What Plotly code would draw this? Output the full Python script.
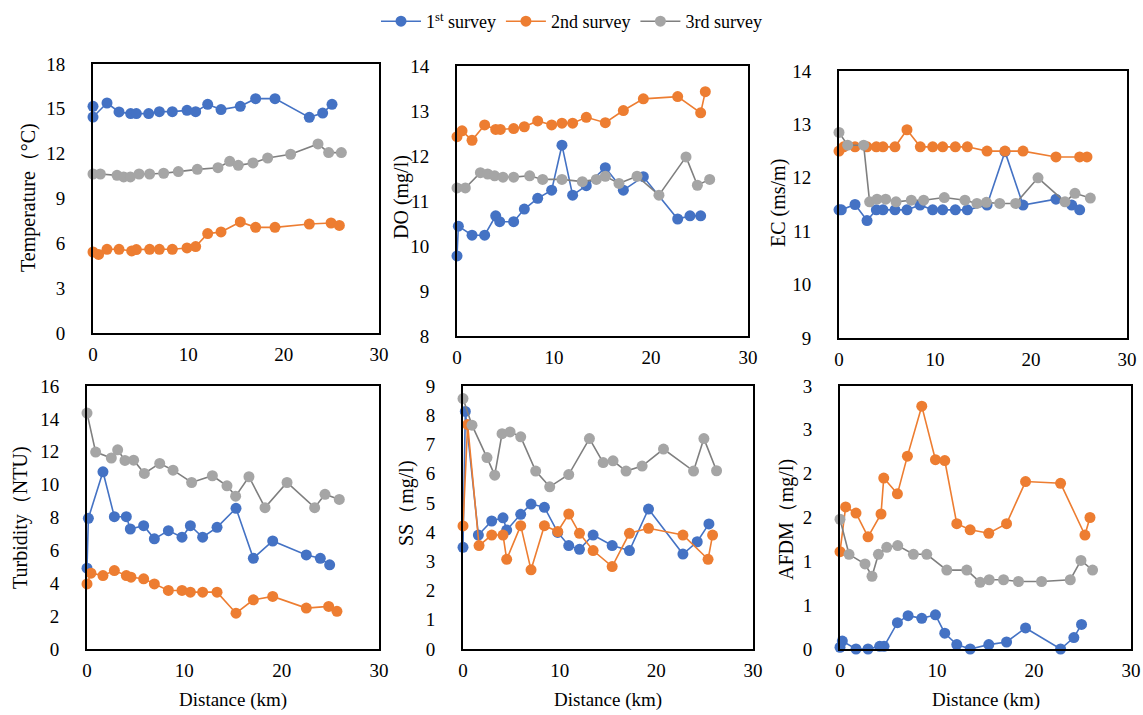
import plotly.graph_objects as go

W, H = 1143, 715
BLUE, ORANGE, GRAY = "#4472C4", "#ED7D31", "#A5A5A5"
GRAY_LINE = "#7F7F7F"
FONT = "Liberation Serif"

# ---------------- data ----------------
# Temperature
temp_x1 = [0, 0, 1.47, 2.73, 3.95, 4.55, 5.84, 6.96, 8.32, 9.86, 10.77, 12.03, 13.43, 15.45, 17.06, 19.09, 22.69, 24.09, 25.07]
temp_y1 = [15.17, 14.45, 15.39, 14.79, 14.68, 14.68, 14.68, 14.81, 14.81, 14.9, 14.81, 15.3, 14.95, 15.17, 15.68, 15.68, 14.43, 14.72, 15.3]
temp_x2 = [0, 0.59, 1.47, 2.73, 4.06, 4.55, 5.94, 6.96, 8.32, 9.86, 10.77, 12.03, 13.43, 15.45, 17.06, 19.09, 22.69, 24.97, 25.84]
temp_y2 = [5.42, 5.26, 5.6, 5.6, 5.49, 5.58, 5.6, 5.6, 5.6, 5.69, 5.78, 6.65, 6.76, 7.43, 7.07, 7.07, 7.29, 7.36, 7.2]
temp_x3 = [0, 0.77, 2.52, 3.22, 3.92, 4.83, 5.94, 7.41, 8.95, 10.94, 13.11, 14.34, 15.24, 16.78, 18.32, 20.73, 23.6, 24.72, 26.05]
temp_y3 = [10.64, 10.64, 10.55, 10.44, 10.44, 10.64, 10.64, 10.69, 10.8, 10.95, 11.06, 11.49, 11.22, 11.38, 11.71, 11.96, 12.65, 12.07, 12.07]

# DO
do_x1 = [0, 0.14, 1.55, 2.85, 3.99, 4.4, 5.84, 6.94, 8.32, 9.76, 10.82, 11.92, 13.33, 15.29, 17.15, 19.21, 22.75, 24.02, 25.12]
do_y1 = [9.78, 10.44, 10.24, 10.24, 10.67, 10.54, 10.54, 10.82, 11.06, 11.24, 12.24, 11.13, 11.34, 11.74, 11.24, 11.54, 10.6, 10.67, 10.67]
do_x2 = [0, 0.52, 1.55, 2.85, 3.99, 4.47, 5.84, 6.94, 8.32, 9.76, 10.82, 11.92, 13.33, 15.29, 17.15, 19.21, 22.75, 25.12, 25.6]
do_y2 = [12.43, 12.56, 12.35, 12.69, 12.59, 12.59, 12.61, 12.65, 12.78, 12.69, 12.73, 12.73, 12.86, 12.74, 13.01, 13.27, 13.32, 12.96, 13.43]
do_x3 = [0, 0.86, 2.41, 3.16, 3.88, 4.74, 5.84, 7.49, 8.83, 10.82, 12.92, 14.36, 15.29, 16.7, 18.56, 20.82, 23.61, 24.78, 26.05]
do_y3 = [11.29, 11.29, 11.63, 11.6, 11.56, 11.53, 11.53, 11.56, 11.48, 11.48, 11.43, 11.48, 11.55, 11.39, 11.55, 11.13, 11.98, 11.35, 11.48]

# EC
ec_x1 = [0, 0.24, 1.67, 2.92, 3.89, 4.58, 5.83, 7.08, 8.44, 9.76, 10.8, 12.12, 13.37, 15.42, 17.29, 19.17, 22.6, 24.24, 25.07]
ec_y1 = [11.4, 11.4, 11.5, 11.2, 11.4, 11.4, 11.4, 11.4, 11.49, 11.4, 11.4, 11.4, 11.4, 11.49, 12.49, 11.49, 11.6, 11.49, 11.4]
ec_x2 = [0, 0.49, 1.67, 2.92, 3.89, 4.58, 5.83, 7.08, 8.47, 9.76, 10.8, 12.12, 13.37, 15.42, 17.29, 19.17, 22.6, 25.07, 25.83]
ec_y2 = [12.5, 12.58, 12.58, 12.58, 12.58, 12.58, 12.58, 12.9, 12.58, 12.58, 12.58, 12.58, 12.58, 12.5, 12.5, 12.5, 12.39, 12.39, 12.39]
ec_x3 = [0, 0.9, 2.57, 3.19, 3.96, 4.86, 5.94, 7.53, 8.82, 10.97, 13.12, 14.37, 15.35, 16.74, 18.4, 20.73, 23.54, 24.58, 26.18]
ec_y3 = [12.85, 12.61, 12.61, 11.55, 11.6, 11.6, 11.55, 11.58, 11.58, 11.63, 11.58, 11.52, 11.54, 11.52, 11.52, 12.0, 11.55, 11.71, 11.62]

# Turbidity
tu_x1 = [0, 0.14, 1.64, 2.81, 4.04, 4.45, 5.82, 6.92, 8.36, 9.76, 10.62, 11.88, 13.36, 15.31, 17.09, 19.08, 22.53, 23.97, 24.93]
tu_y1 = [4.92, 7.95, 10.78, 8.05, 8.05, 7.3, 7.5, 6.7, 7.2, 6.8, 7.5, 6.8, 7.4, 8.56, 5.52, 6.57, 5.72, 5.52, 5.12]
tu_x2 = [0, 0.41, 1.64, 2.81, 4.04, 4.52, 5.82, 6.92, 8.36, 9.76, 10.62, 11.88, 13.36, 15.31, 17.09, 19.08, 22.53, 24.83, 25.68]
tu_y2 = [3.96, 4.61, 4.47, 4.77, 4.47, 4.37, 4.27, 3.96, 3.56, 3.56, 3.46, 3.46, 3.46, 2.18, 2.99, 3.2, 2.49, 2.59, 2.29]
tu_x3 = [0, 0.89, 2.5, 3.15, 3.9, 4.79, 5.89, 7.47, 8.84, 10.75, 12.88, 14.38, 15.27, 16.64, 18.29, 20.55, 23.39, 24.45, 25.92]
tu_y3 = [14.35, 11.98, 11.62, 12.12, 11.47, 11.49, 10.68, 11.29, 10.88, 10.13, 10.54, 9.93, 9.3, 10.48, 8.6, 10.13, 8.6, 9.41, 9.1]

# SS
ss_x1 = [0, 0.24, 1.59, 2.97, 4.14, 4.52, 5.97, 7.04, 8.42, 9.8, 10.94, 12.05, 13.46, 15.43, 17.22, 19.19, 22.75, 24.23, 25.44]
ss_y1 = [3.48, 8.13, 3.9, 4.38, 4.49, 4.07, 4.61, 4.96, 4.85, 3.99, 3.54, 3.41, 3.9, 3.54, 3.37, 4.79, 3.25, 3.67, 4.28]
ss_x2 = [0, 0.48, 1.66, 2.97, 4.14, 4.52, 5.97, 7.04, 8.42, 9.8, 10.94, 12.05, 13.46, 15.43, 17.22, 19.19, 22.75, 25.35, 25.82]
ss_y2 = [4.21, 7.68, 3.54, 3.9, 3.9, 3.07, 4.22, 2.71, 4.22, 4.02, 4.62, 3.96, 3.37, 2.82, 3.96, 4.13, 3.9, 3.07, 3.9]
ss_x3 = [0, 0.93, 2.48, 3.28, 4.04, 4.87, 5.97, 7.52, 8.97, 10.94, 13.08, 14.5, 15.52, 16.87, 18.53, 20.74, 23.85, 24.92, 26.23]
ss_y3 = [8.57, 7.66, 6.55, 5.95, 7.37, 7.43, 7.26, 6.09, 5.55, 5.97, 7.2, 6.38, 6.44, 6.09, 6.26, 6.84, 6.09, 7.2, 6.1]

# AFDM
af_x1 = [0, 0.24, 1.65, 2.89, 4.09, 4.54, 5.92, 7.02, 8.43, 9.84, 10.8, 12.04, 13.42, 15.34, 17.17, 19.13, 22.74, 24.11, 24.9]
af_y1 = [0.02, 0.09, 0.0, 0.0, 0.03, 0.03, 0.3, 0.38, 0.35, 0.39, 0.18, 0.05, 0.0, 0.05, 0.08, 0.24, 0.0, 0.13, 0.28]
af_x2 = [0, 0.58, 1.65, 2.89, 4.23, 4.51, 5.92, 6.95, 8.43, 9.84, 10.8, 12.04, 13.42, 15.34, 17.17, 19.13, 22.74, 25.25, 25.77]
af_y2 = [1.11, 1.62, 1.55, 1.28, 1.54, 1.95, 1.77, 2.2, 2.77, 2.16, 2.15, 1.43, 1.36, 1.32, 1.43, 1.91, 1.89, 1.3, 1.5]
af_x3 = [0, 0.93, 2.58, 3.3, 3.96, 4.82, 5.95, 7.57, 8.94, 11.01, 13.07, 14.45, 15.38, 16.86, 18.4, 20.78, 23.74, 24.84, 26.04]
af_y3 = [1.48, 1.08, 0.97, 0.83, 1.08, 1.16, 1.18, 1.08, 1.08, 0.9, 0.9, 0.76, 0.79, 0.79, 0.77, 0.77, 0.79, 1.01, 0.9]

series_names = ["1<sup>st</sup> survey", "2nd survey", "3rd survey"]

x_ticks = [0, 10, 20, 30]
afdm_tickvals = [0, 0.5, 1, 1.5, 2, 2.5, 3]
afdm_ticktext = ["0", "1", "1", "2", "2", "3", "3"]

panels = [
    dict(xs=(temp_x1, temp_x2, temp_x3), ys=(temp_y1, temp_y2, temp_y3), yr=(0, 18), dt=3,
         box=(93, 379, 64, 333), title="Temperature（°C)", tpos=(28, 198), xtitle=False),
    dict(xs=(do_x1, do_x2, do_x3), ys=(do_y1, do_y2, do_y3), yr=(8, 14), dt=1,
         box=(457, 748, 66, 336), title="DO (mg/l)", tpos=(402, 197), xtitle=False),
    dict(xs=(ec_x1, ec_x2, ec_x3), ys=(ec_y1, ec_y2, ec_y3), yr=(9, 14), dt=1,
         box=(839, 1127, 71, 338), title="EC (ms/m)", tpos=(778, 203), xtitle=False),
    dict(xs=(tu_x1, tu_x2, tu_x3), ys=(tu_y1, tu_y2, tu_y3), yr=(0, 16), dt=2,
         box=(87, 379, 386, 649), title="Turbidity（NTU)", tpos=(20, 518), xtitle=True),
    dict(xs=(ss_x1, ss_x2, ss_x3), ys=(ss_y1, ss_y2, ss_y3), yr=(0, 9), dt=1,
         box=(463, 753, 386, 649), title="SS（mg/l)", tpos=(406, 503), xtitle=True),
    dict(xs=(af_x1, af_x2, af_x3), ys=(af_y1, af_y2, af_y3), yr=(0, 3), dt=None,
         box=(840, 1131, 386, 649), title="AFDM（mg/l)", tpos=(786, 520), xtitle=True),
]

fig = go.Figure()
colors = [BLUE, ORANGE, GRAY]
line_colors = [BLUE, ORANGE, GRAY_LINE]
annotations = []

for i, p in enumerate(panels):
    n = i + 1
    xa = "x" if n == 1 else f"x{n}"
    ya = "y" if n == 1 else f"y{n}"
    for k in range(3):
        fig.add_trace(go.Scatter(
            x=p["xs"][k], y=p["ys"][k], mode="lines+markers",
            name=series_names[k], legendgroup=str(k), showlegend=(i == 0),
            line=dict(color=line_colors[k], width=1.6),
            marker=dict(color=colors[k], size=11),
            xaxis=xa, yaxis=ya, cliponaxis=False,
        ))
    x0, x1, y0, y1 = p["box"]
    xkey = "xaxis" if n == 1 else f"xaxis{n}"
    ykey = "yaxis" if n == 1 else f"yaxis{n}"
    yaxis = dict(
        domain=[1 - y1 / H, 1 - y0 / H], range=list(p["yr"]), anchor=xa,
        showline=True, mirror=True, linecolor="black", linewidth=2,
        showgrid=False, zeroline=False, ticks="outside", ticklen=22,
        tickcolor="rgba(0,0,0,0)", tickfont=dict(family=FONT, size=19, color="black"),
        automargin=False,
    )
    if p["dt"] is None:
        yaxis.update(tickmode="array", tickvals=afdm_tickvals, ticktext=afdm_ticktext)
    else:
        yaxis.update(tickmode="linear", tick0=p["yr"][0], dtick=p["dt"])
    fig.layout[ykey] = yaxis
    fig.layout[xkey] = dict(
        domain=[x0 / W, x1 / W], range=[0, 30], anchor=ya,
        showline=True, mirror=True, linecolor="black", linewidth=2,
        showgrid=False, zeroline=False, ticks="outside", ticklen=3,
        tickcolor="rgba(0,0,0,0)", tickmode="array", tickvals=x_ticks,
        tickfont=dict(family=FONT, size=19, color="black"), automargin=False,
    )
    tx, ty = p["tpos"]
    annotations.append(dict(
        text=p["title"], x=tx / W, y=1 - ty / H, xref="paper", yref="paper",
        textangle=-90, showarrow=False, xanchor="center", yanchor="middle",
        font=dict(family=FONT, size=20, color="black"),
    ))
    if p["xtitle"]:
        annotations.append(dict(
            text="Distance (km)", x=((x0 + x1) / 2) / W, y=1 - 700 / H,
            xref="paper", yref="paper", showarrow=False,
            xanchor="center", yanchor="middle",
            font=dict(family=FONT, size=19, color="black"),
        ))

fig.update_layout(
    width=W, height=H, margin=dict(l=0, r=0, t=0, b=0),
    paper_bgcolor="white", plot_bgcolor="white",
    font=dict(family=FONT, color="black"),
    annotations=annotations,
    legend=dict(orientation="h", x=0.5, xanchor="center", y=1 - 3 / H, yanchor="top",
                font=dict(family=FONT, size=18, color="black"),
                itemwidth=40, tracegroupgap=0, bgcolor="rgba(0,0,0,0)"),
    showlegend=True,
)

fig.write_html("out.html", config={"displayModeBar": False},
               post_script="document.body.style.margin='0';document.body.style.overflow='hidden';")
